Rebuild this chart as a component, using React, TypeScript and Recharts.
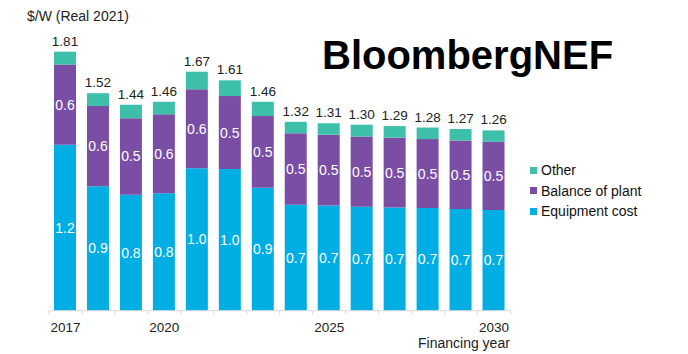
import React from 'react';
import { BarChart, Bar, XAxis, YAxis, LabelList } from 'recharts';

// Financing year, one bar per year
const years = ['2017', '2018', '2019', '2020', '2021', '2022', '2023', '2024', '2025', '2026', '2027', '2028', '2029', '2030'];
const shownYears = ['2017', '2020', '2025', '2030'];

const equipment = [1.16, 0.87, 0.81, 0.82, 0.995, 0.99, 0.86, 0.74, 0.735, 0.727, 0.722, 0.717, 0.71, 0.703];
const balanceOfPlant = [0.56, 0.56, 0.535, 0.552, 0.552, 0.51, 0.5, 0.5, 0.495, 0.49, 0.487, 0.482, 0.48, 0.477];
const other = [0.09, 0.09, 0.095, 0.088, 0.123, 0.11, 0.1, 0.08, 0.08, 0.083, 0.081, 0.081, 0.08, 0.08];
const totals = [1.81, 1.52, 1.44, 1.46, 1.67, 1.61, 1.46, 1.32, 1.31, 1.3, 1.29, 1.28, 1.27, 1.26];

const data = years.map((year, i) => ({
  year,
  equipment: equipment[i],
  bop: balanceOfPlant[i],
  other: other[i],
  total: totals[i],
}));

// legend order as in the picture (top of stack first)
const legendItems = [
  { name: 'Other', color: '#3DBFAA' },
  { name: 'Balance of plant', color: '#7B4EA6' },
  { name: 'Equipment cost', color: '#00AEE4' },
];

const W = 688;
const H = 354;
const margin = { top: 24.5, right: 177.5, bottom: 0, left: 49 };
const step = (W - margin.left - margin.right) / years.length;
const font = '"Liberation Sans", Arial, sans-serif';

const YearTick = (props: any) => {
  const { x, y, payload, index } = props;
  const label = shownYears.includes(payload.value) ? payload.value : '';
  return (
    <g>
      <line x1={x - step / 2} x2={x - step / 2} y1={y} y2={y + 4} stroke="#d9d9d9" />
      {index === years.length - 1 && (
        <line x1={x + step / 2} x2={x + step / 2} y1={y} y2={y + 4} stroke="#d9d9d9" />
      )}
      {label && (
        <text x={x} y={y + 21.5} textAnchor="middle" fontSize={13.5} fill="#222" fontFamily={font}>
          {label}
        </text>
      )}
    </g>
  );
};

const fmt1 = (v: any) => Number(v).toFixed(1);
const fmt2 = (v: any) => Number(v).toFixed(2);

export default function App() {
  return (
    <div style={{ position: 'relative', width: W, height: H, background: '#fff', fontFamily: font }}>
      <style>{'body{margin:0}'}</style>
      <div style={{ position: 'absolute', left: 27, top: 8, fontSize: 14, lineHeight: '16px', color: '#222' }}>
        $/W (Real 2021)
      </div>
      <div style={{ position: 'absolute', left: 322, top: 35, fontSize: 40, lineHeight: '40px', fontWeight: 700, color: '#000' }}>
        BloombergNEF
      </div>
      <div style={{ position: 'absolute', left: 418, top: 335, fontSize: 14, lineHeight: '16px', color: '#222' }}>
        Financing year
      </div>
      <div style={{ position: 'absolute', left: 530, top: 160, fontSize: 14, color: '#111', zIndex: 2 }}>
        {legendItems.map((it) => (
          <div key={it.name} style={{ display: 'flex', alignItems: 'center', height: 20.5 }}>
            <span style={{ width: 7, height: 7, background: it.color, marginRight: 4, display: 'inline-block' }} />
            <span>{it.name}</span>
          </div>
        ))}
      </div>
      <BarChart width={W} height={H} data={data} margin={margin} barSize={22}>
        <XAxis
          dataKey="year"
          height={43.3}
          interval={0}
          tickLine={false}
          tickSize={0}
          tickMargin={0}
          axisLine={{ stroke: '#d9d9d9' }}
          tick={<YearTick />}
        />
        <YAxis hide domain={[0, 2]} />
        <Bar dataKey="equipment" name="Equipment cost" stackId="a" fill="#00AEE4" isAnimationActive={false}>
          <LabelList dataKey="equipment" position="center" formatter={fmt1} fill="#fff" fontSize={14} fontFamily={font} />
        </Bar>
        <Bar dataKey="bop" name="Balance of plant" stackId="a" fill="#7B4EA6" isAnimationActive={false}>
          <LabelList dataKey="bop" position="center" formatter={fmt1} fill="#fff" fontSize={14} fontFamily={font} />
        </Bar>
        <Bar dataKey="other" name="Other" stackId="a" fill="#3DBFAA" isAnimationActive={false}>
          <LabelList dataKey="total" position="top" offset={6} formatter={fmt2} fill="#222" fontSize={13.5} fontFamily={font} />
        </Bar>
      </BarChart>
    </div>
  );
}
